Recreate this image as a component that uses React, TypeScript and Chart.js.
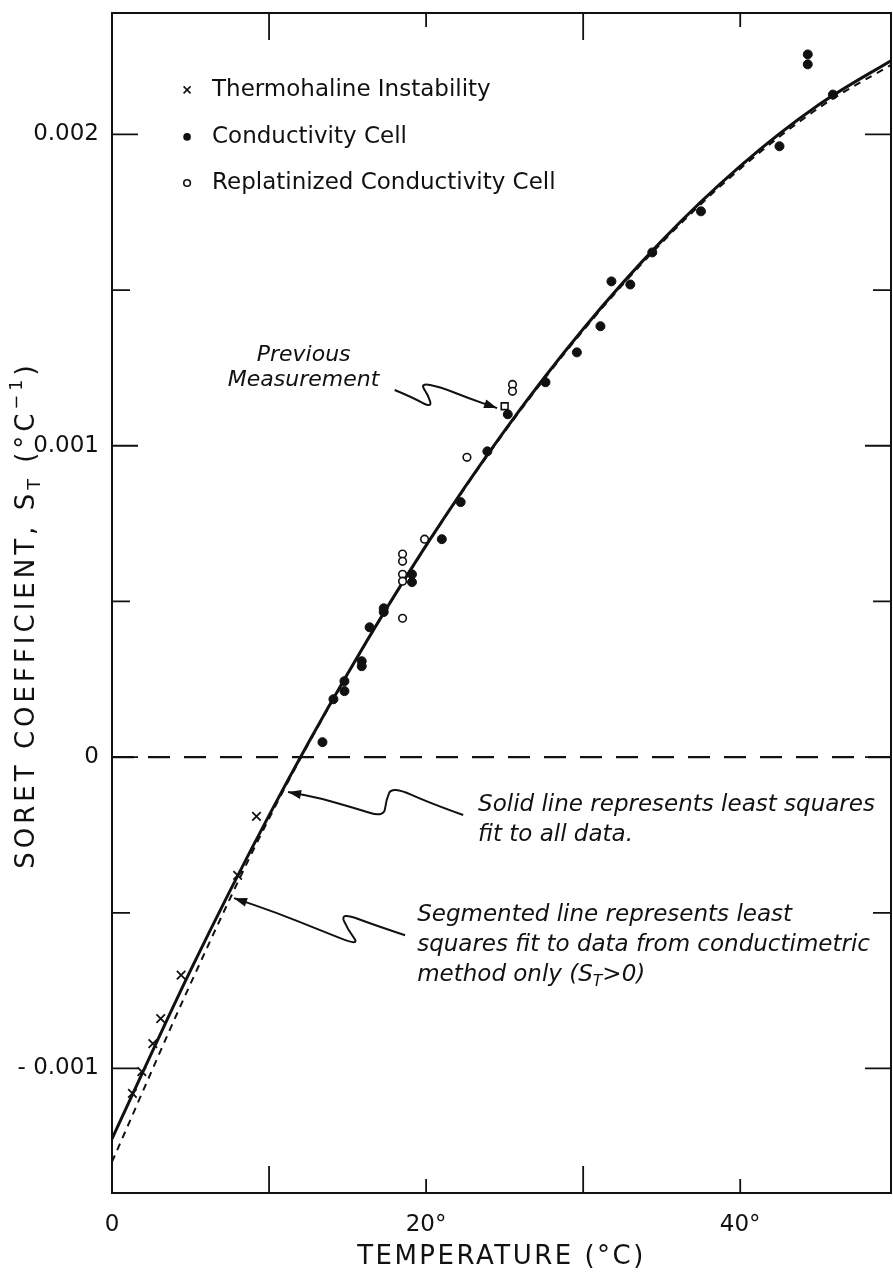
import React, { useEffect, useRef } from 'react';
import { Chart, registerables } from 'chart.js';

Chart.register(...registerables);

// ---------- data (temperature °C, Soret coefficient 1/°C) ----------
const THERMO_T = [1.3, 1.9, 2.6, 3.1, 4.4, 8.0, 9.2];
const THERMO_S = [-0.00108, -0.00101, -0.00092, -0.00084, -0.0007, -0.00038, -0.00019];

const CELL_T = [13.4, 14.1, 14.8, 14.8, 15.9, 15.9, 16.4, 17.3, 17.3, 19.1, 19.1, 21.0, 22.2, 23.9, 25.2, 27.6, 29.6, 31.1, 31.8, 33.0, 34.4, 37.5, 42.5, 44.3, 44.3, 45.9];
const CELL_S = [0.000048, 0.000186, 0.000244, 0.000212, 0.000308, 0.000292, 0.000417, 0.000466, 0.000478, 0.000587, 0.000562, 0.0007, 0.000819, 0.000982, 0.001101, 0.001204, 0.0013, 0.001384, 0.001528, 0.001518, 0.001621, 0.001753, 0.001962, 0.002257, 0.002225, 0.002128];

const REPLAT_T = [18.5, 18.5, 18.5, 18.5, 18.5, 19.9, 22.6, 25.5, 25.5];
const REPLAT_S = [0.000652, 0.000629, 0.000587, 0.000565, 0.000446, 0.0007, 0.000963, 0.001197, 0.001175];

const PREV_T = [25.0];
const PREV_S = [0.001127];

const FIT_T = [0, 5, 10, 15, 20, 25, 30, 35, 40, 45, 50];
const FIT_ALL_S = [-0.001226, -0.000685, -0.000187, 0.000268, 0.00068, 0.001049, 0.001375, 0.001658, 0.001898, 0.002095, 0.002249];
const FIT_COND_S = [-0.0013, -0.000728, -0.000197, 0.000266, 0.000678, 0.001045, 0.00137, 0.001652, 0.00189, 0.002085, 0.002235];

const ZERO_T = [0, 50];
const ZERO_S = [0, 0];

// ---------- axes ----------
const X_MIN = 0;
const X_MAX = 49.6;
const Y_MIN = -0.0014;
const Y_MAX = 0.00239;
const X_TICKS = [0, 20, 40];
const X_TICK_LABELS = ['0', '20°', '40°'];
const X_TICK_MARKS = [10, 20, 30, 40];
const Y_TICKS = [-0.001, 0, 0.001, 0.002];
const Y_TICK_LABELS = ['- 0.001', '0', '0.001', '0.002'];
const Y_MINOR = [-0.0005, 0.0005, 0.0015];

// ---------- annotations (data coordinates) ----------
const LEGEND_ITEMS = ['Thermohaline Instability', 'Conductivity Cell', 'Replatinized Conductivity Cell'];
const LEGEND_S = [0.002143, 0.001992, 0.001844];
const LEGEND_MARK_T = 4.78;
const LEGEND_TEXT_T = 6.37;

const ARROW_PREV = [[18.0, 0.001179], [19.1, 0.001156], [20.38, 0.001121], [20.13, 0.001163], [19.62, 0.001201], [20.89, 0.001189], [22.68, 0.001153], [24.52, 0.001121]];
const ARROW_SOLID = [[22.36, -0.000186], [20.25, -0.000148], [17.83, -0.000093], [17.45, -0.000138], [17.32, -0.000193], [15.48, -0.000164], [13.25, -0.000132], [11.21, -0.000112]];
const ARROW_SEG = [[18.66, -0.000572], [16.75, -0.00054], [14.52, -0.000498], [15.03, -0.000556], [15.8, -0.000607], [13.25, -0.000556], [10.38, -0.000498], [7.77, -0.000453]];

const FONT = "'DejaVu Sans', sans-serif";

type Part = { t: string; sub?: boolean; sup?: boolean };

function partsWidth(ctx: CanvasRenderingContext2D, parts: Part[], size: number, style: string) {
  let w = 0;
  for (const p of parts) {
    const s = p.sub || p.sup ? size * 0.68 : size;
    ctx.font = `${style} ${s}px ${FONT}`;
    w += ctx.measureText(p.t).width;
  }
  return w;
}

function drawParts(ctx: CanvasRenderingContext2D, parts: Part[], x: number, y: number, size: number, style: string) {
  let cx = x;
  ctx.textAlign = 'left';
  ctx.textBaseline = 'middle';
  for (const p of parts) {
    const s = p.sub || p.sup ? size * 0.68 : size;
    ctx.font = `${style} ${s}px ${FONT}`;
    const dy = p.sub ? size * 0.32 : p.sup ? -size * 0.38 : 0;
    ctx.fillText(p.t, cx, y + dy);
    cx += ctx.measureText(p.t).width;
  }
}

function drawSquiggle(ctx: CanvasRenderingContext2D, pts: number[][]) {
  const n = pts.length;
  ctx.beginPath();
  ctx.moveTo(pts[0][0], pts[0][1]);
  for (let i = 1; i < n - 1; i++) {
    const mx = (pts[i][0] + pts[i + 1][0]) / 2;
    const my = (pts[i][1] + pts[i + 1][1]) / 2;
    ctx.quadraticCurveTo(pts[i][0], pts[i][1], mx, my);
  }
  ctx.lineTo(pts[n - 1][0], pts[n - 1][1]);
  ctx.stroke();
  const [x1, y1] = pts[n - 2];
  const [x2, y2] = pts[n - 1];
  const a = Math.atan2(y2 - y1, x2 - x1);
  const L = 13;
  const W = 4.5;
  ctx.beginPath();
  ctx.moveTo(x2, y2);
  ctx.lineTo(x2 - L * Math.cos(a) + W * Math.sin(a), y2 - L * Math.sin(a) - W * Math.cos(a));
  ctx.lineTo(x2 - L * Math.cos(a) - W * Math.sin(a), y2 - L * Math.sin(a) + W * Math.cos(a));
  ctx.closePath();
  ctx.fill();
}

const decor = {
  id: 'decor',
  afterDatasetsDraw(chart: any) {
    const { ctx, chartArea: ca, scales } = chart;
    const xs = scales.x;
    const ys = scales.y;
    const px = (t: number) => xs.getPixelForValue(t);
    const py = (s: number) => ys.getPixelForValue(s);
    ctx.save();
    ctx.strokeStyle = '#111';
    ctx.fillStyle = '#111';

    // frame
    ctx.lineWidth = 2;
    ctx.setLineDash([]);
    ctx.strokeRect(ca.left, ca.top, ca.right - ca.left, ca.bottom - ca.top);

    // inward tick marks
    ctx.lineWidth = 1.8;
    const yMarks: [number, number][] = [
      ...Y_TICKS.map((v) => [v, 26] as [number, number]),
      ...Y_MINOR.map((v) => [v, 18] as [number, number]),
    ];
    for (const [v, len] of yMarks) {
      const y = py(v);
      ctx.beginPath();
      ctx.moveTo(ca.left, y);
      ctx.lineTo(ca.left + len, y);
      ctx.moveTo(ca.right, y);
      ctx.lineTo(ca.right - len, y);
      ctx.stroke();
    }
    for (const v of X_TICK_MARKS) {
      const x = px(v);
      const len = v % 20 === 0 ? 14 : 27;
      ctx.beginPath();
      ctx.moveTo(x, ca.top);
      ctx.lineTo(x, ca.top + len);
      ctx.moveTo(x, ca.bottom);
      ctx.lineTo(x, ca.bottom - len);
      ctx.stroke();
    }

    // legend
    const marks = ['cross', 'dot', 'ring'];
    LEGEND_ITEMS.forEach((label, i) => {
      const mx = px(LEGEND_MARK_T);
      const my = py(LEGEND_S[i]);
      ctx.lineWidth = 1.6;
      if (marks[i] === 'cross') {
        ctx.beginPath();
        ctx.moveTo(mx - 3.5, my - 3.5);
        ctx.lineTo(mx + 3.5, my + 3.5);
        ctx.moveTo(mx + 3.5, my - 3.5);
        ctx.lineTo(mx - 3.5, my + 3.5);
        ctx.stroke();
      } else if (marks[i] === 'dot') {
        ctx.beginPath();
        ctx.arc(mx, my, 3.8, 0, Math.PI * 2);
        ctx.fill();
      } else {
        ctx.beginPath();
        ctx.arc(mx, my, 3.3, 0, Math.PI * 2);
        ctx.stroke();
      }
      drawParts(ctx, [{ t: label }], px(LEGEND_TEXT_T), my, 23, 'normal');
    });

    // squiggle arrows
    ctx.lineWidth = 2;
    for (const arr of [ARROW_PREV, ARROW_SOLID, ARROW_SEG]) {
      drawSquiggle(ctx, arr.map(([t, s]) => [px(t), py(s)]));
    }

    // annotation texts
    const it = 'italic';
    const prevX = px(12.2);
    for (const [txt, s] of [['Previous', 0.001291], ['Measurement', 0.001211]] as [string, number][]) {
      const w = partsWidth(ctx, [{ t: txt }], 22, it);
      drawParts(ctx, [{ t: txt }], prevX - w / 2, py(s), 22, it);
    }
    const solidX = px(23.31);
    drawParts(ctx, [{ t: 'Solid line represents least squares' }], solidX, py(-0.000154), 23, it);
    drawParts(ctx, [{ t: 'fit to all data.' }], solidX, py(-0.000251), 23, it);
    const segX = px(19.43);
    drawParts(ctx, [{ t: 'Segmented line represents least' }], segX, py(-0.000508), 23, it);
    drawParts(ctx, [{ t: 'squares fit to data from conductimetric' }], segX, py(-0.000604), 23, it);
    drawParts(ctx, [{ t: 'method only (S' }, { t: 'T', sub: true }, { t: '>0)' }], segX, py(-0.0007), 23, it);

    // axis titles
    (ctx as any).letterSpacing = '2.5px';
    const xt: Part[] = [{ t: 'TEMPERATURE (°C)' }];
    const xw = partsWidth(ctx, xt, 26, 'normal');
    drawParts(ctx, xt, (ca.left + ca.right) / 2 - xw / 2, 1257, 26, 'normal');

    (ctx as any).letterSpacing = '4px';
    const yt: Part[] = [
      { t: 'SORET COEFFICIENT, S' },
      { t: 'T', sub: true },
      { t: ' (°C' },
      { t: '−1', sup: true },
      { t: ')' },
    ];
    const yw = partsWidth(ctx, yt, 26, 'normal');
    ctx.translate(27, 615);
    ctx.rotate(-Math.PI / 2);
    drawParts(ctx, yt, -yw / 2, 0, 26, 'normal');
    (ctx as any).letterSpacing = '0px';
    ctx.restore();
  },
};

const pts = (xs: number[], ys: number[]) => xs.map((x, i) => ({ x, y: ys[i] }));

export default function App() {
  const ref = useRef<HTMLCanvasElement>(null);
  useEffect(() => {
    const canvas = ref.current!;
    const chart = new Chart(canvas, {
      type: 'scatter',
      data: {
        datasets: [
          {
            label: 'Thermohaline Instability',
            data: pts(THERMO_T, THERMO_S),
            pointStyle: 'crossRot',
            pointRadius: 6,
            borderColor: '#111',
            borderWidth: 1.8,
            order: 1,
          },
          {
            label: 'Conductivity Cell',
            data: pts(CELL_T, CELL_S),
            pointStyle: 'circle',
            pointRadius: 4.5,
            backgroundColor: '#111',
            borderColor: '#111',
            borderWidth: 1,
            order: 1,
          },
          {
            label: 'Replatinized Conductivity Cell',
            data: pts(REPLAT_T, REPLAT_S),
            pointStyle: 'circle',
            pointRadius: 3.8,
            backgroundColor: '#fff',
            borderColor: '#111',
            borderWidth: 1.6,
            order: 1,
          },
          {
            label: 'Previous Measurement',
            data: pts(PREV_T, PREV_S),
            pointStyle: 'rect',
            pointRadius: 4.8,
            backgroundColor: '#fff',
            borderColor: '#111',
            borderWidth: 1.6,
            order: 1,
          },
          {
            label: 'Least squares fit, all data',
            data: pts(FIT_T, FIT_ALL_S),
            showLine: true,
            pointRadius: 0,
            borderColor: '#111',
            borderWidth: 3,
            cubicInterpolationMode: 'monotone',
            order: 2,
          },
          {
            label: 'Least squares fit, conductimetric only',
            data: pts(FIT_T, FIT_COND_S),
            showLine: true,
            pointRadius: 0,
            borderColor: '#111',
            borderWidth: 2,
            borderDash: [7, 6],
            cubicInterpolationMode: 'monotone',
            order: 2,
          },
          {
            label: 'Zero',
            data: pts(ZERO_T, ZERO_S),
            showLine: true,
            pointRadius: 0,
            borderColor: '#111',
            borderWidth: 2.4,
            borderDash: [22, 14],
            order: 3,
          },
        ],
      },
      options: {
        animation: false,
        responsive: false,
        layout: { autoPadding: false, padding: { top: 13, right: 2, left: 0, bottom: 0 } },
        plugins: { legend: { display: false }, tooltip: { enabled: false } },
        scales: {
          x: {
            type: 'linear',
            min: X_MIN,
            max: X_MAX,
            grid: { display: false },
            border: { display: false },
            afterBuildTicks: (scale: any) => {
              scale.ticks = X_TICKS.map((v) => ({ value: v }));
            },
            afterFit: (scale: any) => {
              scale.height = 81;
              scale.paddingLeft = 0;
              scale.paddingRight = 0;
            },
            ticks: {
              autoSkip: false,
              maxRotation: 0,
              padding: 10,
              color: '#111',
              font: { family: FONT, size: 23 },
              callback: (v: any) => X_TICK_LABELS[X_TICKS.indexOf(v)] ?? '',
            },
          },
          y: {
            type: 'linear',
            min: Y_MIN,
            max: Y_MAX,
            grid: { display: false },
            border: { display: false },
            afterBuildTicks: (scale: any) => {
              scale.ticks = Y_TICKS.map((v) => ({ value: v }));
            },
            afterFit: (scale: any) => {
              scale.width = 112;
              scale.paddingTop = 0;
              scale.paddingBottom = 0;
            },
            ticks: {
              autoSkip: false,
              padding: 5,
              color: '#111',
              font: { family: FONT, size: 23 },
              callback: (v: any) => Y_TICK_LABELS[Y_TICKS.indexOf(v)] ?? '',
            },
          },
        },
      } as any,
      plugins: [decor],
    });
    return () => chart.destroy();
  }, []);
  return (
    <div style={{ position: 'absolute', left: 0, top: 0, width: 893, height: 1274, background: '#fff' }}>
      <canvas ref={ref} width={893} height={1274} />
    </div>
  );
}
